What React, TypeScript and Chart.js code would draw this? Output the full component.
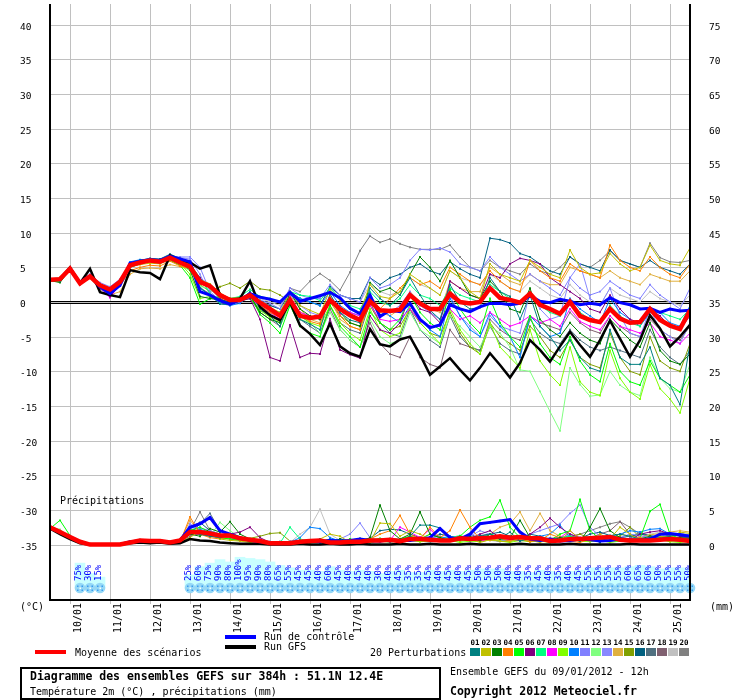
import { useEffect, useRef } from "react";
import { Chart, registerables } from "chart.js";

Chart.register(...registerables);

// 65 runs, one every 6 h, from 09/01 12h to 25/01 12h
const STEP_H = 6;
const FIRST_DAY_H = 12;

const TEMP_TICKS = [-35, -30, -25, -20, -15, -10, -5, 0, 5, 10, 15, 20, 25, 30, 35, 40];
const RAIN_TICKS = [0, 5, 10, 15, 20, 25, 30, 35, 40, 45, 50, 55, 60, 65, 70, 75];
const DAY_LABELS = ["10/01", "11/01", "12/01", "13/01", "14/01", "15/01", "16/01", "17/01", "18/01", "19/01", "20/01", "21/01", "22/01", "23/01", "24/01", "25/01"];

const PERT_COLORS = [
  "#008080", "#c0c000", "#008000", "#ff8000", "#00ff00", "#800080", "#00ff80", "#ff00ff", "#80ff00", "#0080ff",
  "#8080ff", "#80ff80", "#8888ff", "#e0b040", "#80a000", "#006080", "#507080", "#806070", "#c0c0c0", "#808080",
];

// temperature 2m (°C)
const MEAN_T = [
  3.2, 3.3, 4.8, 2.7, 3.7, 2.4, 1.8, 2.9, 5.3, 5.7, 6.0, 5.8, 6.4, 5.7, 5.1, 2.9, 2.3, 1.0, 0.3, 0.3,
  1.0, -0.1, -1.0, -2.0, 0.3, -2.0, -2.3, -2.1, 0.3, -1.0, -1.9, -2.6, 0.1, -1.2, -1.3, -1.1,
  1.0, -0.2, -1.0, -1.0, 1.2, 0.0, -0.2, 0.0, 2.0, 0.6, 0.3, -0.1, 1.2, -0.4, -1.0, -1.7, 0.0, -2.0, -2.6, -2.9,
  -1.0, -2.4, -3.0, -2.9, -1.0, -2.6, -3.4, -3.9, -1.2,
];
const GFS_T = [
  3.2, 3.3, 5.0, 2.7, 4.8, 1.4, 1.0, 0.7, 4.6, 4.3, 4.2, 3.3, 6.7, 6.0, 5.7, 4.8, 5.3, 1.0, 0.3, 0.5,
  3.0, -0.7, -1.9, -2.6, 0.0, -3.4, -4.6, -6.2, -3.1, -6.4, -7.4, -7.9, -3.9, -6.1, -6.4, -5.4,
  -5.0, -7.6, -10.5, -9.3, -8.1, -9.8, -11.3, -9.5, -7.4, -9.1, -10.9, -8.8, -5.5, -6.9, -8.6, -6.4, -4.3, -6.2, -7.9, -5.5,
  -2.7, -5.3, -7.9, -5.5, -1.9, -3.8, -6.4, -5.0, -3.3,
];
const CTRL_T = [
  3.2, 3.3, 4.8, 2.8, 3.8, 2.2, 1.2, 2.4, 5.6, 5.9, 6.1, 6.0, 6.6, 6.2, 5.8, 1.5, 1.0, 0.2, -0.3, 0.3,
  1.2, 0.7, 0.4, 0.0, 1.4, 0.1, 0.5, 0.9, 1.4, 0.6, -0.9, -1.7, 1.0, -2.1, -1.2, -1.4,
  -0.2, -2.5, -3.7, -3.3, -0.4, -1.0, -1.4, -0.7, -0.2, -0.2, -0.4, -0.2, 0.9, 0.1, -0.1, 0.4, 0.1, -0.4, -0.2, -0.4,
  0.6, -0.1, -0.4, -1.0, -0.9, -1.5, -1.0, -1.3, -1.2,
];

const T01 = [3.2, 3.0, 5.0, 2.9, 3.8, 2.5, 1.5, 3.0, 5.6, 6.0, 6.2, 6.1, 6.8, 6.3, 5.4, 2.0, 1.0, -0.3, -0.4, 0.2,
  1.5, -1.0, -2.0, -3.5, 0.5, -2.5, -3.2, -4.0, 1.2, -1.5, -2.6, -3.0, 2.0, 0.5, -0.5, 1.0,
  3.5, 1.0, -1.2, -2.5, 2.5, 0.0, -1.0, -0.8, 3.5, 1.5, 0.8, -2.5, 1.0, -3.5, -5.0, -7.0, -5.5, -8.0, -9.5, -10.0, -4.0, -8.0, -9.0, -9.0, -6.5, -11.0, -12.0, -14.8, -6.0];
const T02 = [3.3, 3.5, 4.9, 2.8, 3.9, 2.6, 1.9, 3.2, 5.1, 5.4, 5.6, 5.5, 6.2, 5.5, 4.8, 3.2, 2.6, 1.3, 0.5, 0.6,
  1.2, 0.2, -0.8, -1.5, 1.5, -0.5, -1.2, -1.8, 1.8, 0.2, -1.0, -1.5, 2.5, 0.8, 0.5, 1.5,
  4.0, 3.0, 2.0, 1.0, 4.5, 3.5, 1.5, 0.5, 5.5, 4.0, 3.5, 3.0, 6.0, 5.0, 4.0, 3.5, 7.5, 5.0, 4.0, 4.2, 7.0, 5.5, 4.5, 5.0, 8.2, 6.0, 5.5, 5.3, 7.8];
const T03 = [3.1, 2.8, 4.7, 2.6, 3.6, 2.2, 1.6, 2.7, 5.2, 5.8, 6.1, 5.9, 6.5, 5.8, 4.6, 0.8, 0.5, 0.3, 0.0, 0.4,
  1.0, -1.5, -2.5, -3.0, 1.5, -1.0, -2.0, -2.5, 0.5, -1.5, -3.0, -3.5, 2.8, 1.5, 2.0, 1.0,
  4.0, 6.5, 5.0, 3.0, 6.0, 3.5, 1.0, 0.5, 3.0, 1.5, -1.0, -1.5, 2.0, -2.5, -4.0, -5.0, -3.0, -4.5, -5.5, -6.0, -2.5, -4.0, -5.5, -6.5, -3.0, -7.0, -8.5, -9.0, -7.5];
const T04 = [3.0, 3.2, 4.6, 2.9, 3.5, 2.0, 1.2, 2.3, 4.5, 5.0, 5.3, 5.2, 5.9, 5.2, 4.8, 3.0, 2.0, 0.8, 0.2, 0.4,
  0.8, -0.5, -1.5, -2.2, 0.5, -1.8, -2.8, -3.2, 0.8, -2.0, -3.5, -4.0, 1.0, -1.0, 0.5, 2.0,
  3.5, 2.5, 3.0, 2.0, 5.0, 4.0, 3.0, 2.5, 4.5, 3.0, 2.0, 1.5, 6.0, 4.5, 3.5, 3.0, 5.5, 4.5, 4.0, 3.5, 8.2, 6.0, 5.0, 4.5, 6.5, 5.0, 4.0, 3.5, 5.5];
const T05 = [3.2, 3.0, 4.9, 2.7, 3.8, 2.2, 1.7, 2.8, 5.0, 5.5, 5.9, 5.7, 6.0, 5.3, 3.5, -0.3, 0.5, 0.8, 0.5, 0.6,
  1.0, -1.8, -3.0, -4.5, -0.5, -3.5, -4.5, -5.0, -0.5, -3.5, -5.0, -6.5, -1.5, -3.0, -4.0, -2.5,
  1.0, -1.5, -3.0, -4.0, 1.8, -1.0, -3.0, -4.5, 0.5, -3.0, -5.0, -6.5, -2.0, -6.0, -8.0, -9.0, -5.0, -8.5, -10.5, -11.5, -6.0, -10.0, -11.5, -12.0, -8.5, -11.0, -12.0, -13.0, -10.5];
const T06 = [3.3, 3.1, 4.8, 2.5, 3.6, 2.3, 0.8, 2.5, 5.4, 5.9, 6.2, 6.0, 6.6, 5.9, 5.3, 3.5, 2.0, 0.5, -0.2, 0.2,
  0.5, -2.5, -8.0, -8.5, -3.3, -8.0, -7.4, -7.5, -2.4, -6.9, -7.6, -8.1, -2.0, -4.0, -4.5, -3.0,
  1.0, -1.0, -1.5, -3.0, 3.0, 2.0, 1.0, 0.5, 4.0, 3.5, 5.5, 6.3, 6.0, 5.5, 3.5, 2.5, 1.5, 0.5, -1.0, -1.5, 1.0, -1.0, -2.5, -3.0, -1.0, -2.0, -3.5, -4.0, -2.0];
const T07 = [3.2, 3.4, 4.7, 2.8, 3.7, 2.5, 2.0, 3.0, 5.5, 5.9, 6.0, 5.7, 6.3, 5.8, 5.5, 3.5, 1.2, 0.0, 0.5, 0.8,
  1.8, 0.8, 0.5, 0.0, 1.5, 1.0, 0.8, 0.2, 2.0, 0.5, -0.5, -1.0, 1.5, 0.0, -0.5, 0.5,
  2.5, 1.0, 0.5, -0.5, 2.0, 1.0, 0.5, 0.0, 2.5, 1.5, 0.5, 0.0, 1.0, -0.5, -1.5, -2.0, 0.0, -1.5, -2.5, -3.0, -0.5, -2.0, -3.0, -3.5, -1.0, -1.5, -2.0, -2.5, -1.0];
const T08 = [3.0, 3.2, 4.5, 2.6, 3.5, 2.1, 0.6, 2.6, 5.0, 5.6, 5.8, 5.6, 6.2, 5.5, 4.9, 2.7, 2.5, 1.2, 0.5, 0.4,
  0.8, -0.8, -1.5, -2.5, 0.8, -1.5, -2.0, -2.5, 0.5, -1.8, -1.5, -2.0, -0.5, -2.5, -2.8, -2.5,
  -1.0, -2.8, -3.5, -3.5, -1.0, -2.5, -2.0, -3.0, -1.5, -2.5, -3.5, -3.0, -2.0, -3.0, -2.5, -3.5, -1.0, -2.8, -3.5, -4.0, -2.0, -3.5, -4.0, -4.5, -3.0, -5.0, -5.5, -6.0, -4.5];
const T09 = [3.1, 2.9, 4.8, 2.7, 3.6, 2.3, 1.8, 2.8, 5.1, 5.6, 5.9, 5.8, 6.3, 5.6, 4.0, 0.5, 0.8, 0.6, 0.2, 0.3,
  0.6, -1.2, -2.2, -3.0, 0.0, -2.0, -3.0, -3.5, -0.5, -3.0, -4.5, -5.5, -1.0, -4.0, -5.0, -4.5,
  -0.5, -3.0, -4.5, -6.0, -1.0, -4.0, -6.0, -7.5, -3.0, -6.5, -8.0, -9.5, -4.0, -8.5, -10.5, -12.0, -6.5, -11.5, -13.0, -13.5, -7.0, -11.0, -13.0, -14.0, -9.0, -12.5, -14.0, -16.0, -11.0];
const T10 = [3.2, 3.3, 4.9, 2.7, 3.6, 2.5, 1.6, 3.0, 5.8, 6.1, 6.2, 6.0, 6.6, 6.2, 5.8, 2.0, 1.0, 0.1, -0.5, -0.2,
  1.0, -0.5, -1.0, -1.5, 1.0, 0.5, 0.0, -0.5, 1.5, -0.5, -1.5, -2.0, 0.5, -1.0, -2.0, -3.0,
  -0.5, -2.5, -4.0, -5.0, 0.5, -2.0, -4.0, -5.0, -1.5, -3.5, -5.0, -8.0, -2.0, -3.5, -5.0, -4.5, 0.5, -1.0, -2.0, -3.0, 0.5, -1.5, -2.5, -3.5, -1.5, -1.5, -3.0, -3.5, -0.5];
const T11 = [3.3, 3.5, 4.9, 2.9, 4.0, 2.8, 2.2, 3.3, 5.4, 5.8, 6.1, 6.0, 6.6, 6.5, 6.5, 5.0, 1.5, 0.2, 0.0, 0.4,
  1.2, 0.3, -0.2, -1.0, 2.0, 1.0, 0.5, 0.5, 2.5, 1.0, 0.5, 0.0, 3.5, 2.0, 2.5, 3.5,
  6.0, 7.6, 7.5, 7.8, 7.2, 5.5, 5.0, 4.5, 6.5, 5.0, 4.0, 3.0, 4.0, 3.0, 2.0, 1.0, 3.5, 2.0, 1.0, 1.5, 3.0, 2.0, 1.0, 0.5, 2.5, 1.0, 0.0, -1.0, 2.0];
const T12 = [3.2, 3.1, 4.7, 2.6, 3.7, 2.3, 1.9, 2.9, 5.2, 5.6, 5.8, 5.6, 6.1, 5.4, 4.5, 2.3, 1.8, 0.7, 0.1, 0.2,
  0.8, -1.0, -2.0, -3.5, -0.5, -2.5, -3.0, -4.5, -1.5, -4.0, -5.5, -6.5, -2.5, -5.0, -6.0, -5.5,
  -1.5, -4.0, -5.0, -6.0, -2.0, -3.5, -5.0, -6.5, -3.5, -4.5, -6.5, -9.8, -10.0, -12.9, -15.8, -18.6, -9.5, -11.9, -13.6, -13.4, -10.0, -12.0, -13.0, -13.5, -8.0, -11.0, -12.5, -13.0, -9.0];
const T13 = [3.2, 3.2, 4.8, 2.7, 3.8, 2.6, 2.0, 3.1, 5.3, 5.8, 6.0, 5.9, 6.5, 6.4, 6.2, 4.0, 1.0, -0.2, -0.5, 0.0,
  1.0, -0.5, -1.5, -2.0, 1.0, -0.5, -1.5, -2.0, 1.0, -1.0, -2.0, -2.5, 0.5, -1.0, -1.5, -0.5,
  1.5, -0.5, -1.5, -2.5, 1.0, -2.0, -3.5, -5.0, -2.0, -3.5, -4.0, -4.5, 1.5, -1.0, -2.5, -2.0, 3.5, 5.5, 0.5, -0.5, 2.0, -2.0, -4.5, -5.0, -1.0, -4.0, -5.0, -6.0, -3.0];
const T14 = [3.1, 3.2, 4.6, 2.6, 3.4, 2.0, 1.0, 1.5, 4.0, 4.8, 4.9, 4.8, 5.4, 5.1, 4.7, 3.2, 2.4, 1.0, 0.5, 0.5,
  0.9, -0.5, -1.0, -1.8, 1.0, -1.0, -2.5, -3.0, 0.5, -2.5, -3.5, -4.0, 0.5, -1.5, -2.0, -1.0,
  1.5, 0.0, -1.0, -1.5, 3.0, 2.0, 1.5, 1.5, 5.0, 4.0, 3.0, 2.5, 4.0, 3.0, 2.5, 2.5, 5.0, 4.5, 4.0, 3.5, 4.5, 3.5, 3.0, 2.5, 4.0, 3.5, 3.0, 3.0, 4.5];
const T15 = [3.2, 3.0, 4.8, 2.8, 3.6, 2.4, 1.8, 2.9, 5.3, 5.7, 6.0, 5.8, 6.4, 5.7, 5.1, 2.5, 1.5, 2.2, 2.7, 2.0,
  3.0, 1.9, 1.7, 1.0, 0.0, -1.5, -2.0, -2.5, 0.0, -2.0, -3.0, -3.5, -0.5, -3.0, -4.0, -3.5,
  -1.0, -3.0, -4.5, -5.0, -1.5, -4.5, -6.5, -7.5, -3.0, -5.0, -6.0, -7.0, -3.5, -5.0, -7.0, -8.0, -5.5, -8.0, -9.0, -9.5, -4.5, -8.0, -10.0, -10.5, -5.0, -8.5, -9.5, -10.0, -6.0];
const T16 = [3.3, 3.4, 4.9, 2.8, 3.8, 2.4, 1.5, 2.8, 5.5, 6.0, 6.3, 6.2, 6.9, 6.3, 5.6, 2.2, 0.8, 0.0, -0.3, 0.1,
  1.0, -0.2, -0.5, -1.0, 1.5, 0.5, 0.0, -0.5, 2.2, 1.0, 0.5, 0.5, 3.5, 2.5, 3.5, 4.0,
  5.0, 5.5, 4.5, 4.0, 5.8, 4.8, 4.0, 3.5, 9.2, 9.0, 8.5, 7.0, 6.5, 5.5, 4.5, 4.0, 6.5, 5.5, 5.0, 4.5, 7.5, 6.0, 5.5, 5.0, 6.0, 5.0, 4.5, 4.0, 5.5];
const T17 = [3.2, 3.3, 4.7, 2.7, 3.7, 2.2, 1.6, 2.6, 5.3, 5.8, 6.1, 6.0, 6.7, 6.0, 5.4, 1.5, 1.0, 0.2, -0.1, 0.2,
  0.8, -1.2, -2.0, -2.8, 0.2, -2.5, -3.5, -4.5, -0.5, -3.0, -4.0, -4.5, 0.0, -3.0, -4.5, -5.0,
  -1.0, -4.0, -5.5, -6.5, -2.0, -5.0, -6.5, -7.0, -3.5, -6.0, -7.0, -7.5, -2.5, -4.5, -5.5, -6.0, -4.0, -5.5, -6.5, -7.0, -6.5, -7.0, -7.5, -8.0, -4.0, -6.5, -8.0, -9.0, -7.0];
const T18 = [3.2, 3.4, 4.8, 2.6, 3.5, 1.8, 1.3, 2.5, 5.0, 5.5, 5.8, 5.7, 6.2, 5.6, 4.8, 2.0, 1.2, 0.4, -0.1, 0.1,
  0.5, -1.5, -2.5, -3.5, 0.0, -2.0, -3.0, -4.5, -1.0, -4.0, -5.5, -6.5, -3.0, -6.0, -7.5, -8.0,
  -5.0, -8.0, -9.0, -9.5, -4.0, -6.0, -6.5, -7.0, -2.5, -4.0, -5.0, -5.5, -2.0, -3.0, -3.5, -4.0, -1.5, -3.0, -4.0, -4.5, -2.0, -3.5, -4.5, -5.0, -2.5, -4.0, -5.0, -5.5, -3.5];
const T19 = [3.3, 3.3, 4.8, 2.9, 3.7, 2.6, 2.1, 3.1, 5.5, 5.9, 6.1, 6.0, 6.5, 5.9, 5.3, 3.4, 2.6, 1.2, 0.5, 0.4,
  1.3, 0.5, 0.0, -0.5, 1.5, 0.5, 0.0, -0.5, 2.0, 1.0, 0.5, 0.0, 2.5, 1.5, 1.0, 1.5,
  3.5, 2.5, 2.0, 1.0, 4.5, 3.5, 3.0, 2.5, 4.0, 3.0, 2.0, 1.5, 3.0, 2.0, 1.0, 0.5, 2.5, 1.0, 0.0, -0.5, 2.0, 1.0, 0.5, 0.0, 1.5, 0.5, 0.0, -0.5, 1.0];
const T20 = [3.2, 3.3, 4.8, 2.8, 3.8, 2.5, 2.0, 3.0, 5.4, 5.8, 6.0, 5.9, 6.6, 6.0, 5.5, 3.3, 2.5, 1.0, 0.3, 0.3,
  1.0, 0.2, -0.5, -1.0, 2.0, 1.5, 3.0, 4.1, 3.1, 1.7, 4.3, 7.4, 9.5, 8.6, 9.1, 8.4,
  7.9, 7.6, 7.6, 7.6, 8.2, 6.5, 5.0, 4.5, 6.0, 5.0, 4.5, 4.0, 5.5, 4.5, 4.0, 5.0, 6.5, 5.5, 5.0, 6.0, 7.4, 6.0, 5.5, 5.0, 8.5, 6.4, 5.8, 5.7, 6.0];

// precipitation (mm / 6h)
const MEAN_P = [2.5, 1.8, 1.1, 0.4, 0, 0, 0, 0, 0.3, 0.6, 0.5, 0.5, 0.3, 0.6, 1.8, 1.8, 1.6, 1.3, 1.3, 0.9,
  0.7, 0.5, 0.2, 0.2, 0.2, 0.4, 0.5, 0.6, 0.3, 0.3, 0.4, 0.4, 0.6, 0.6, 0.7, 0.5, 0.8, 0.8, 0.7, 0.6,
  0.6, 0.9, 0.8, 0.9, 1.0, 1.2, 1.0, 1.1, 0.9, 0.9, 0.5, 0.6, 0.8, 0.8, 0.9, 1.0, 1.1, 0.7, 0.6, 0.6,
  0.6, 0.7, 0.8, 0.7, 0.5];
const GFS_P = [2.3, 1.5, 0.8, 0.2, 0, 0, 0, 0, 0.2, 0.3, 0.2, 0.3, 0.1, 0.2, 0.8, 0.6, 0.5, 0.3, 0.2, 0.1, 0.1,
  0.1, 0, 0, 0, 0.1, 0, 0, 0.1, 0, 0, 0.1, 0, 0, 0, 0.1,
  0, 0, 0.1, 0, 0, 0, 0.1, 0, 0, 0, 0, 0.1, 0, 0, 0, 0, 0.1, 0, 0, 0, 0, 0, 0.1, 0, 0, 0, 0, 0, 0];
const CTRL_P = [2.5, 1.8, 1.1, 0.4, 0, 0, 0, 0, 0.4, 0.5, 0.6, 0.5, 0.3, 0.6, 2.5, 3.0, 3.9, 2.0, 1.5, 1.0, 0.6,
  0.4, 0.3, 0.2, 0.3, 0.4, 0.5, 0.4, 0.6, 0.5, 0.6, 0.8, 0.6, 0.5, 0.7, 0.6,
  0.6, 0.8, 1.0, 2.3, 1.0, 0.8, 1.5, 3.0, 3.2, 3.4, 3.6, 1.8, 0.8, 0.6, 0.8, 0.5, 0.6, 0.8, 0.7, 0.5, 0.6, 0.8, 0.7, 0.6, 0.8, 1.5, 1.6, 1.4, 1.2];

const P01 = [2.6, 1.9, 1.2, 0.4, 0, 0, 0, 0, 0.3, 0.6, 0.5, 0.6, 0.2, 0.5, 2.0, 1.5, 1.2, 1.0, 1.4, 0.9, 0.6,
  0.3, 0.1, 0.2, 0.1, 0.6, 0.4, 0.8, 0.3, 0.5, 0.3, 0.9, 0.5, 0.6, 0.7, 0.5,
  1.2, 2.8, 2.8, 2.4, 1.0, 0.8, 0.6, 1.2, 1.5, 0.9, 1.8, 0.5, 0.9, 1.0, 0.4, 0.5, 0.8, 0.5, 0.9, 0.3, 1.3, 1.5, 1.2, 0.8, 1.0, 0.9, 1.2, 1.5, 1.3];
const P02 = [2.4, 1.8, 1.0, 0.3, 0, 0, 0, 0, 0.2, 0.4, 0.3, 0.5, 0.2, 0.4, 1.0, 2.0, 1.5, 0.8, 0.6, 0.5, 0.3,
  0.2, 0.1, 0.3, 0.2, 0.5, 0.3, 0.8, 1.5, 1.2, 0.3, 0.5, 0.4, 3.1, 3.0, 1.2,
  2.0, 1.5, 0.8, 0.6, 1.0, 0.5, 0.8, 0.3, 0.7, 0.5, 0.4, 1.0, 0.6, 0.3, 0.8, 0.5, 2.0, 0.8, 0.5, 1.5, 0.8, 2.5, 1.5, 0.6, 1.0, 1.2, 1.0, 1.8, 1.6];
const P03 = [2.5, 1.7, 1.0, 0.3, 0, 0, 0, 0, 0.3, 0.5, 0.4, 0.6, 0.3, 0.5, 1.5, 1.2, 2.3, 1.8, 3.3, 1.5, 0.8,
  0.3, 0.2, 0.1, 0.3, 0.5, 0.4, 0.6, 0.3, 0.8, 0.5, 0.4, 1.0, 5.7, 2.0, 0.8,
  1.5, 4.7, 1.5, 1.0, 0.5, 0.8, 1.2, 0.5, 1.5, 0.8, 0.9, 3.5, 1.0, 0.6, 0.5, 1.0, 0.8, 0.5, 2.5, 5.2, 2.0, 1.0, 0.5, 0.8, 1.2, 0.6, 0.8, 1.0, 0.9];
const P04 = [2.7, 2.0, 1.2, 0.4, 0, 0, 0, 0, 0.2, 0.5, 0.3, 0.4, 0.2, 0.3, 4.0, 1.5, 1.0, 0.8, 1.2, 0.8, 0.5,
  0.2, 0.3, 0.2, 0.4, 0.6, 0.3, 0.5, 0.4, 0.6, 0.3, 0.5, 0.8, 1.5, 2.0, 4.2,
  1.5, 0.8, 2.5, 1.0, 2.0, 5.0, 2.5, 0.8, 0.6, 0.9, 0.5, 0.8, 0.4, 0.6, 1.5, 1.0, 0.5, 0.3, 0.8, 0.6, 0.9, 0.5, 0.8, 1.0, 0.6, 0.9, 1.2, 0.8, 1.0];
const P05 = [2.3, 3.5, 1.3, 0.4, 0, 0, 0, 0, 0.3, 0.4, 0.6, 0.5, 0.3, 0.4, 2.0, 2.5, 1.8, 1.0, 0.8, 0.6, 0.5,
  0.3, 0.2, 0.3, 0.2, 0.4, 0.5, 0.3, 0.6, 0.4, 0.8, 0.5, 0.6, 0.9, 0.5, 0.8,
  1.2, 0.8, 1.5, 1.0, 0.6, 1.2, 2.5, 3.5, 4.0, 6.4, 2.5, 1.0, 0.8, 0.5, 0.6, 1.5, 2.0, 6.5, 2.0, 0.8, 0.6, 0.5, 0.8, 0.9, 4.8, 5.8, 1.5, 0.8, 0.6];
const P06 = [2.5, 1.8, 1.1, 0.4, 0, 0, 0, 0, 0.3, 0.6, 0.5, 0.4, 0.3, 0.6, 1.5, 1.5, 1.2, 1.0, 1.5, 1.8, 2.5,
  1.0, 0.3, 0.2, 0.1, 0.3, 0.4, 0.3, 0.5, 0.3, 0.6, 0.4, 0.5, 0.6, 0.4, 0.5,
  0.8, 1.0, 0.6, 0.5, 0.8, 1.2, 0.9, 1.5, 2.0, 1.0, 0.8, 0.6, 1.5, 2.5, 3.8, 2.5, 1.5, 1.0, 0.8, 0.6, 0.5, 0.8, 0.6, 1.5, 1.8, 2.0, 1.5, 1.2, 1.0];
const P07 = [2.6, 1.8, 1.1, 0.3, 0, 0, 0, 0, 0.2, 0.5, 0.6, 0.5, 0.3, 0.5, 2.2, 2.0, 1.6, 1.3, 1.5, 1.0, 0.6,
  0.4, 0.3, 0.2, 2.5, 0.8, 0.5, 0.4, 0.6, 0.5, 0.4, 0.8, 0.6, 0.5, 0.9, 0.7,
  0.9, 0.7, 0.6, 0.8, 1.0, 1.3, 0.9, 0.8, 1.5, 1.2, 1.0, 0.8, 0.7, 0.9, 0.6, 1.0, 1.2, 0.8, 0.7, 1.0, 0.9, 0.6, 0.8, 0.7, 0.9, 1.0, 0.8, 0.6, 0.9];
const P08 = [2.4, 1.9, 1.2, 0.5, 0, 0, 0, 0, 0.3, 0.5, 0.4, 0.6, 0.3, 0.4, 1.8, 1.6, 1.3, 1.1, 1.0, 0.8, 0.6,
  0.3, 0.2, 0.3, 0.2, 0.5, 0.3, 0.6, 0.4, 0.5, 0.3, 0.6, 0.5, 0.8, 0.6, 2.5,
  1.8, 1.0, 2.2, 0.8, 0.6, 0.9, 0.7, 0.5, 0.8, 1.0, 0.6, 0.8, 0.9, 0.7, 0.5, 1.0, 2.0, 0.8, 0.6, 0.7, 0.5, 0.8, 0.9, 0.7, 0.6, 0.8, 1.0, 0.7, 0.8];
const P09 = [2.5, 1.7, 1.0, 0.3, 0, 0, 0, 0, 0.2, 0.4, 0.5, 0.4, 0.2, 0.4, 1.5, 1.8, 1.4, 1.2, 1.0, 0.7, 0.5,
  0.2, 0.1, 0.2, 0.3, 0.4, 0.2, 0.5, 0.3, 0.4, 0.2, 0.5, 0.3, 0.6, 0.4, 0.5,
  0.6, 0.4, 0.5, 0.8, 0.6, 0.3, 0.5, 0.4, 0.7, 0.5, 0.3, 0.6, 0.4, 0.5, 0.3, 0.6, 0.8, 0.5, 0.4, 0.6, 0.3, 0.5, 0.4, 0.6, 0.5, 0.7, 0.4, 0.3, 0.5];
const P10 = [2.6, 1.9, 1.1, 0.4, 0, 0, 0, 0, 0.4, 0.6, 0.5, 0.4, 0.3, 0.6, 2.5, 2.2, 1.8, 1.2, 1.0, 0.8, 0.6,
  0.3, 0.4, 0.2, 0.3, 1.0, 2.5, 2.3, 1.0, 0.5, 0.4, 0.6, 0.3, 0.5, 0.4, 0.6,
  1.0, 0.8, 0.6, 0.9, 1.2, 0.8, 0.6, 0.9, 1.5, 1.0, 0.8, 0.6, 0.9, 1.2, 1.5, 2.8, 1.0, 0.8, 0.6, 0.9, 1.2, 1.5, 2.0, 1.8, 2.2, 2.3, 1.5, 1.2, 1.0];
const P11 = [2.7, 2.0, 1.2, 0.4, 0, 0, 0, 0, 0.3, 0.5, 0.6, 0.5, 0.3, 0.5, 2.8, 2.4, 2.0, 1.5, 1.2, 0.9, 0.6,
  0.3, 0.2, 0.3, 0.4, 0.5, 0.6, 0.4, 0.5, 0.8, 1.5, 3.1, 1.0, 0.6, 0.4, 0.5,
  0.8, 0.6, 0.9, 1.2, 0.8, 0.6, 0.9, 1.0, 0.7, 0.5, 0.8, 1.0, 1.5, 2.0, 2.5, 3.0, 4.5, 5.7, 2.5, 1.2, 0.8, 1.0, 1.5, 1.3, 1.0, 1.2, 1.5, 1.6, 1.4];
const P12 = [2.5, 2.2, 1.0, 0.3, 0, 0, 0, 0, 0.2, 0.4, 0.5, 0.3, 0.2, 0.4, 1.8, 1.5, 1.2, 3.2, 2.0, 1.0, 0.6,
  0.3, 0.2, 0.1, 0.3, 0.2, 0.4, 0.3, 0.5, 0.4, 0.3, 0.6, 0.4, 0.5, 0.3, 0.6,
  0.8, 0.5, 0.6, 0.9, 0.5, 0.4, 0.7, 0.5, 0.9, 0.6, 0.4, 0.8, 0.5, 0.6, 0.4, 0.7, 0.9, 0.6, 0.5, 0.7, 0.4, 0.6, 0.5, 0.8, 0.6, 0.7, 0.5, 0.4, 0.6];
const P13 = [2.6, 1.8, 1.1, 0.4, 0, 0, 0, 0, 0.3, 0.5, 0.4, 0.6, 0.2, 0.5, 3.0, 2.0, 1.5, 1.2, 1.0, 0.8, 0.5,
  0.2, 0.3, 0.2, 0.5, 0.3, 0.6, 0.4, 0.5, 0.3, 0.6, 0.8, 0.5, 0.4, 0.6, 0.5,
  0.9, 0.6, 0.8, 1.0, 0.7, 0.9, 1.2, 2.0, 1.5, 0.8, 0.6, 0.9, 1.0, 0.8, 0.6, 0.9, 1.5, 1.0, 0.8, 0.6, 0.9, 0.7, 0.8, 1.0, 0.8, 0.6, 0.9, 1.1, 0.9];
const P14 = [2.5, 1.8, 1.2, 0.4, 0, 0, 0, 0, 0.3, 0.4, 0.3, 0.5, 0.2, 0.5, 3.5, 1.8, 1.3, 1.0, 0.9, 0.7, 0.5,
  0.3, 0.2, 0.3, 0.2, 0.4, 0.3, 0.5, 0.4, 0.6, 0.5, 0.4, 0.6, 0.8, 0.5, 0.7,
  1.2, 0.8, 1.5, 1.0, 0.8, 1.2, 1.0, 0.9, 1.5, 2.5, 3.0, 4.7, 2.0, 4.5, 2.0, 1.2, 1.0, 0.8, 0.9, 1.2, 1.0, 1.5, 1.2, 1.0, 1.4, 1.6, 1.8, 2.0, 1.8];
const P15 = [2.4, 1.7, 1.0, 0.3, 0, 0, 0, 0, 0.2, 0.4, 0.3, 0.4, 0.3, 0.4, 1.6, 1.5, 1.3, 1.0, 0.9, 0.8, 0.9,
  1.2, 1.6, 1.7, 0.5, 0.4, 0.3, 0.5, 0.4, 0.6, 0.3, 0.5, 0.4, 0.6, 0.5, 0.4,
  0.7, 0.5, 0.8, 0.6, 0.9, 0.7, 0.5, 0.8, 1.0, 0.7, 0.5, 0.8, 1.2, 0.9, 0.6, 0.8, 1.0, 1.5, 0.9, 0.7, 1.0, 1.2, 2.5, 1.0, 0.8, 0.9, 1.2, 1.0, 0.9];
const P16 = [2.7, 2.0, 1.1, 0.4, 0, 0, 0, 0, 0.4, 0.7, 0.5, 0.6, 0.4, 0.6, 2.5, 3.2, 2.0, 1.5, 1.2, 0.9, 0.7,
  0.4, 0.3, 0.4, 0.3, 0.6, 0.5, 0.4, 0.8, 0.6, 0.5, 0.7, 0.9, 2.0, 2.2, 2.1,
  1.5, 1.0, 0.8, 1.5, 1.2, 0.9, 1.0, 1.3, 1.5, 1.8, 1.2, 0.9, 1.5, 1.2, 0.8, 1.0, 1.2, 0.9, 1.5, 1.8, 1.3, 1.0, 1.2, 1.5, 1.3, 1.1, 1.4, 1.6, 1.3];
const P17 = [2.5, 1.8, 1.0, 0.4, 0, 0, 0, 0, 0.3, 0.5, 0.4, 0.5, 0.3, 0.5, 1.5, 3.0, 4.5, 2.0, 1.2, 0.8, 0.6,
  0.3, 0.2, 0.3, 0.4, 0.3, 0.5, 0.4, 0.6, 0.5, 0.4, 0.6, 0.5, 0.7, 0.5, 0.6,
  0.8, 0.6, 0.7, 0.9, 0.6, 0.8, 1.5, 0.9, 0.7, 0.6, 0.8, 0.7, 0.9, 0.6, 0.5, 0.8, 0.7, 0.6, 0.9, 1.0, 0.8, 0.7, 0.9, 1.8, 1.2, 0.8, 1.0, 0.9, 0.8];
const P18 = [2.6, 1.9, 1.1, 0.3, 0, 0, 0, 0, 0.2, 0.5, 0.4, 0.5, 0.3, 0.4, 1.2, 1.8, 1.4, 1.0, 0.8, 0.6, 0.5,
  0.2, 0.3, 0.2, 0.3, 0.4, 0.3, 0.5, 0.4, 0.6, 0.4, 0.5, 0.3, 0.6, 0.4, 0.5,
  0.7, 0.5, 0.6, 0.8, 0.5, 0.7, 0.6, 0.9, 0.7, 0.5, 0.8, 0.6, 0.7, 0.5, 0.8, 0.6, 0.9, 0.7, 1.0, 1.5, 2.0, 3.3, 1.5, 0.8, 1.0, 0.7, 0.8, 0.6, 0.7];
const P19 = [2.5, 1.8, 1.1, 0.4, 0, 0, 0, 0, 0.3, 0.4, 0.3, 0.5, 0.2, 0.4, 1.5, 2.0, 1.5, 1.2, 1.0, 0.8, 0.6,
  0.3, 0.2, 0.4, 0.3, 1.5, 2.5, 5.1, 1.5, 0.6, 0.4, 0.5, 0.3, 0.6, 0.5, 0.4,
  0.6, 0.5, 0.7, 0.5, 0.6, 0.8, 0.5, 0.7, 0.6, 0.4, 0.7, 0.5, 0.6, 0.8, 0.5, 0.7, 0.6, 0.9, 0.7, 0.5, 0.6, 0.8, 0.7, 0.9, 1.5, 1.8, 1.6, 1.4, 1.2];
const P20 = [2.6, 1.9, 1.2, 0.4, 0, 0, 0, 0, 0.3, 0.6, 0.5, 0.4, 0.3, 0.5, 2.0, 4.7, 2.0, 1.2, 1.0, 0.8, 0.6,
  0.3, 0.2, 0.3, 0.4, 0.5, 0.6, 0.5, 0.4, 0.6, 0.5, 0.8, 0.6, 0.5, 0.7, 0.6,
  0.8, 1.0, 0.7, 0.9, 0.6, 0.8, 0.7, 1.0, 0.8, 0.6, 0.9, 0.7, 1.0, 0.8, 0.9, 1.0, 1.2, 1.5, 2.0, 2.5, 3.0, 3.3, 2.5, 1.5, 1.2, 1.0, 1.3, 1.5, 1.2];

// probability of precipitation (%)
const PROB = [0, 0, 0, 75, 30, 15, 0, 0, 0, 0, 0, 0, 0, 0, 25, 60, 75, 90, 80, 100,
  95, 90, 80, 65, 55, 45, 45, 40, 60, 45, 40, 45, 40, 30, 40, 45, 35, 35, 45, 40,
  45, 40, 45, 50, 50, 50, 40, 40, 35, 45, 40, 35, 40, 45, 55, 55, 55, 55, 60, 65,
  60, 50, 55, 55, 50];

const PERT_T = [T01, T02, T03, T04, T05, T06, T07, T08, T09, T10, T11, T12, T13, T14, T15, T16, T17, T18, T19, T20];
const PERT_P = [P01, P02, P03, P04, P05, P06, P07, P08, P09, P10, P11, P12, P13, P14, P15, P16, P17, P18, P19, P20];

const MONO = '"DejaVu Sans Mono", monospace';

const toPoints = (vals: number[]) => vals.map((v, i) => ({ x: i * STEP_H, y: v }));

function thinLine(data: number[], color: string, axis: string, order: number) {
  return {
    type: "line" as const,
    data: toPoints(data),
    yAxisID: axis,
    borderColor: color,
    borderWidth: 1,
    pointRadius: 1.3,
    pointStyle: "rect" as const,
    pointBackgroundColor: color,
    pointBorderWidth: 0,
    tension: 0,
    order,
  };
}

function thickLine(data: number[], color: string, width: number, axis: string, order: number, dots: boolean) {
  return {
    type: "line" as const,
    data: toPoints(data),
    yAxisID: axis,
    borderColor: color,
    borderWidth: width,
    pointRadius: dots ? 1.6 : 0,
    pointStyle: "rect" as const,
    pointBackgroundColor: color,
    pointBorderWidth: 0,
    tension: 0,
    order,
  };
}

const decor = {
  id: "decor",
  beforeDatasetsDraw(chart: any) {
    const { ctx, chartArea: a, scales } = chart;
    ctx.save();
    ctx.strokeStyle = "#c0c0c0";
    ctx.lineWidth = 1;
    ctx.beginPath();
    TEMP_TICKS.forEach((v) => {
      const py = Math.round(scales.y.getPixelForValue(v)) + 0.5;
      ctx.moveTo(a.left, py);
      ctx.lineTo(a.right, py);
    });
    DAY_LABELS.forEach((_, k) => {
      const px = Math.round(scales.x.getPixelForValue(FIRST_DAY_H + 24 * k)) + 0.5;
      ctx.moveTo(px, a.top);
      ctx.lineTo(px, a.bottom + 4);
    });
    ctx.stroke();
    // double line at 0 °C
    const y0 = Math.round(scales.y.getPixelForValue(0));
    ctx.fillStyle = "#000";
    ctx.fillRect(a.left, y0 - 1, a.right - a.left, 1);
    ctx.fillRect(a.left, y0 + 1, a.right - a.left, 1);
    ctx.restore();
  },
  afterDatasetsDraw(chart: any) {
    const { ctx, chartArea: a, scales } = chart;
    ctx.save();
    // rain icons
    const cy = a.bottom - 12;
    PROB.forEach((p, i) => {
      if (!p) return;
      const cx = scales.x.getPixelForValue(i * STEP_H);
      ctx.fillStyle = "#96d8f6";
      ctx.beginPath();
      ctx.arc(cx, cy, 5.3, 0, Math.PI * 2);
      ctx.fill();
      ctx.fillStyle = "#3a9cf0";
      ctx.fillRect(cx - 3, cy - 2.5, 1.5, 1.5);
      ctx.fillRect(cx + 1.5, cy - 2.5, 1.5, 1.5);
      ctx.fillRect(cx - 3, cy + 1.5, 1.5, 1.5);
      ctx.fillRect(cx + 1.5, cy + 1.5, 1.5, 1.5);
      ctx.fillStyle = "#ffffff";
      ctx.fillRect(cx - 0.5, cy - 0.5, 1.5, 1.5);
    });
    // probability labels
    ctx.fillStyle = "#0000ff";
    ctx.font = `9px ${MONO}`;
    ctx.textAlign = "left";
    ctx.textBaseline = "middle";
    PROB.forEach((p, i) => {
      if (!p) return;
      const cx = scales.x.getPixelForValue(i * STEP_H) - 1;
      ctx.save();
      ctx.translate(cx, a.bottom - 19);
      ctx.rotate(-Math.PI / 2);
      ctx.fillText(`${p}%`, 0, 0);
      ctx.restore();
    });
    // frame
    ctx.strokeStyle = "#000";
    ctx.lineWidth = 2;
    ctx.beginPath();
    ctx.moveTo(a.left, a.top);
    ctx.lineTo(a.left, a.bottom);
    ctx.lineTo(a.right, a.bottom);
    ctx.lineTo(a.right, a.top);
    ctx.stroke();
    ctx.restore();
  },
  afterDraw(chart: any) {
    const { ctx, chartArea: a, scales } = chart;
    ctx.save();
    ctx.fillStyle = "#000";
    ctx.textBaseline = "middle";
    ctx.textAlign = "left";
    ctx.font = `9.5px ${MONO}`;
    TEMP_TICKS.forEach((v) => ctx.fillText(String(v), 20, scales.y.getPixelForValue(v) + 2.5));
    RAIN_TICKS.forEach((v) => ctx.fillText(String(v), a.right + 19, scales.yP.getPixelForValue(v) + 2.5));
    ctx.font = `10px ${MONO}`;
    ctx.fillText("(°C)", 20, a.bottom + 7);
    ctx.fillText("(mm)", a.right + 20, a.bottom + 7);
    ctx.fillText("Précipitations", 60, scales.yP.getPixelForValue(5) - 9);
    // day labels
    ctx.textAlign = "right";
    DAY_LABELS.forEach((d, k) => {
      const px = Math.round(scales.x.getPixelForValue(FIRST_DAY_H + 24 * k)) + 8;
      ctx.save();
      ctx.translate(px, a.bottom + 3);
      ctx.rotate(-Math.PI / 2);
      ctx.fillText(d, 0, 0);
      ctx.restore();
    });
    ctx.textAlign = "left";
    // legend
    ctx.fillStyle = "#ff0000";
    ctx.fillRect(35, 650, 31, 4);
    ctx.fillStyle = "#0000ff";
    ctx.fillRect(225, 635, 31, 4);
    ctx.fillStyle = "#000000";
    ctx.fillRect(225, 645, 31, 4);
    ctx.fillText("Moyenne des scénarios", 75, 653);
    ctx.fillText("Run de contrôle", 264, 637);
    ctx.fillText("Run GFS", 264, 647);
    ctx.fillText("20 Perturbations", 370, 653);
    PERT_COLORS.forEach((c, k) => {
      const sx = 470 + 11 * k;
      ctx.fillStyle = c;
      ctx.fillRect(sx, 648, 10, 8);
      ctx.fillStyle = "#000";
      ctx.font = `bold 7.5px ${MONO}`;
      ctx.textAlign = "center";
      ctx.fillText(String(k + 1).padStart(2, "0"), sx + 5, 643);
    });
    ctx.textAlign = "left";
    // title box
    ctx.strokeStyle = "#000";
    ctx.lineWidth = 2;
    ctx.strokeRect(21, 668, 419, 31);
    ctx.fillStyle = "#000";
    ctx.font = `bold 11.5px ${MONO}`;
    ctx.fillText("Diagramme des ensembles GEFS sur 384h : 51.1N 12.4E", 30, 677);
    ctx.font = `10px ${MONO}`;
    ctx.fillText("Température 2m (°C) , précipitations (mm)", 30, 692);
    ctx.fillText("Ensemble GEFS du 09/01/2012 - 12h", 450, 672);
    ctx.font = `bold 11.5px ${MONO}`;
    ctx.fillText("Copyright 2012 Meteociel.fr", 450, 692);
    ctx.restore();
  },
};

export default function App() {
  const chartRef = useRef<HTMLCanvasElement | null>(null);

  useEffect(() => {
    if (!chartRef.current) return;

    const datasets: any[] = [
      thickLine(MEAN_T, "#ff0000", 4.5, "y", 0, false),
      thickLine(CTRL_T, "#0000ff", 3, "y", 1, true),
      thickLine(GFS_T, "#000000", 2.5, "y", 2, false),
      thickLine(MEAN_P, "#ff0000", 4.5, "yP", 0, false),
      thickLine(CTRL_P, "#0000ff", 3, "yP", 1, true),
      thickLine(GFS_P, "#000000", 2.5, "yP", 2, false),
    ];
    PERT_T.forEach((s, k) => datasets.push(thinLine(s, PERT_COLORS[k], "y", 3 + k)));
    PERT_P.forEach((s, k) => datasets.push(thinLine(s, PERT_COLORS[k], "yP", 3 + k)));
    datasets.push({
      type: "bar",
      data: PROB.flatMap((p, i) => (p > 0 ? [{ x: i * STEP_H, y: [-32, p] }] : [])),
      yAxisID: "yPct",
      backgroundColor: "#c8ffff",
      borderWidth: 0,
      barThickness: 10,
      grouped: false,
      order: 50,
    });

    const chart = new Chart(chartRef.current, {
      type: "line",
      data: { datasets },
      options: {
        animation: false,
        responsive: false,
        events: [],
        layout: { padding: { left: 50, right: 50, top: 0, bottom: 100 } },
        plugins: { legend: { display: false }, tooltip: { enabled: false } },
        scales: {
          x: { type: "linear", min: 0, max: 384, offset: false, display: false },
          y: { type: "linear", min: -43, max: 43, display: false },
          yP: { type: "linear", min: -8, max: 78, display: false },
          yPct: { type: "linear", min: -83, max: 2470, display: false },
        },
      },
      plugins: [decor],
    });

    return () => {
      chart.destroy();
    };
  }, []);

  return (
    <canvas
      ref={chartRef}
      width={740}
      height={700}
      style={{ position: "absolute", left: 0, top: 0, width: 740, height: 700, background: "#fff" }}
    />
  );
}
